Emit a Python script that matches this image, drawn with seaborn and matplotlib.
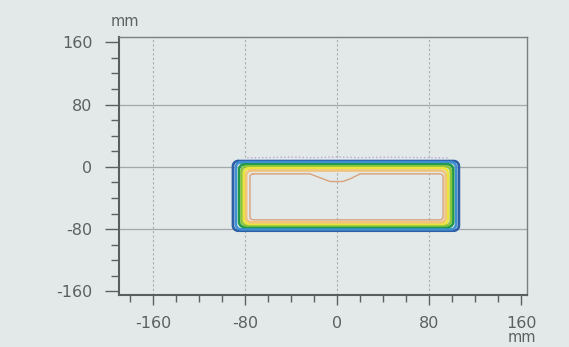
import numpy as np
import pandas as pd
import matplotlib
matplotlib.use("Agg")
import matplotlib.pyplot as plt
import seaborn as sns
from matplotlib.ticker import MultipleLocator

# ---- data (mm) ----
levels = ["c1", "c2", "c3", "c4", "c5", "c6"]
level_colors = ["#2d5fa6", "#3f8fd2", "#219a4c", "#8cc63f", "#ece43c", "#f2c37a"]
left_mm = [-90.5, -88.0, -85.2, -83.0, -80.9, -79.0]
right_mm = [106.0, 103.5, 101.0, 99.0, 96.5, 94.5]
top_mm = [7.5, 6.0, 3.2, 0.6, -1.7, -4.7]
bottom_mm = [-82.0, -80.2, -77.2, -75.2, -73.2, -71.2]

inner_level = "c7"
inner_color = "#d9a27a"
inner_left, inner_right, inner_top, inner_bottom = -75.7, 92.2, -9.0, -68.0
dip_x = [-23.5, -13.0, -6.0, 5.0, 12.0, 20.0]
dip_y = [-9.0, -15.0, -18.8, -18.8, -15.0, -9.0]

faint_x = [-78.0, -40.0, -20.0, 0.0, 20.0, 45.0, 96.0]
faint_y = [11.5, 12.5, 11.8, 12.8, 11.8, 12.4, 11.5]

xticks = [-160, -80, 0, 80, 160]
yticks = [160, 80, 0, -80, -160]
xgrid = [-160, -80, 0, 80]
ygrid = [80, 0, -80]


def outline(l, r, t, b, rx, ry, top_x=None, top_y=None):
    xs, ys = [], []
    if top_x is None:
        xs += [l + rx, r - rx]
        ys += [t, t]
    else:
        xs += [l + rx] + list(top_x) + [r - rx]
        ys += [t] + list(top_y) + [t]
    a = np.linspace(np.pi / 2, 0, 8)
    xs += list(r - rx + rx * np.cos(a)); ys += list(t - ry + ry * np.sin(a))
    a = np.linspace(0, -np.pi / 2, 8)
    xs += list(r - rx + rx * np.cos(a)); ys += list(b + ry + ry * np.sin(a))
    a = np.linspace(-np.pi / 2, -np.pi, 8)
    xs += list(l + rx + rx * np.cos(a)); ys += list(b + ry + ry * np.sin(a))
    a = np.linspace(np.pi, np.pi / 2, 8)
    xs += list(l + rx + rx * np.cos(a)); ys += list(t - ry + ry * np.sin(a))
    return xs, ys


frames = []
for i, lev in enumerate(levels):
    xs, ys = outline(left_mm[i], right_mm[i], top_mm[i], bottom_mm[i], 4.5, 6.5)
    frames.append(pd.DataFrame({"x": xs, "y": ys, "level": lev}))
df = pd.concat(frames, ignore_index=True)

ix, iy = outline(inner_left, inner_right, inner_top, inner_bottom, 3.0, 4.0, dip_x, dip_y)
df_inner = pd.DataFrame({"x": ix, "y": iy})
df_faint = pd.DataFrame({"x": faint_x, "y": faint_y})

bg = "#e3e9e9"
sns.set_theme(style="white")
plt.rcParams["font.family"] = ["DejaVu Sans"]

fig = plt.figure(figsize=(5.69, 3.47), dpi=100, facecolor=bg)
ax = fig.add_axes([119 / 569, 1 - 295 / 347, (527 - 119) / 569, (295 - 37) / 347])
ax.set_facecolor(bg)

# grid
for xv in xgrid:
    ax.axvline(xv, color="#a9afb0", lw=0.8, ls=(0, (2, 2)), zorder=0)
for yv in ygrid:
    ax.axhline(yv, color="#a3a9aa", lw=0.9, zorder=0)

sns.lineplot(data=df_faint, x="x", y="y", sort=False, estimator=None,
             color="#b9a9d6", lw=1.0, ls=":", ax=ax)
sns.lineplot(data=df, x="x", y="y", hue="level", units="level", sort=False, estimator=None,
             palette=dict(zip(levels, level_colors)), hue_order=levels,
             lw=1.9, legend=False, ax=ax)
sns.lineplot(data=df_inner, x="x", y="y", sort=False, estimator=None,
             color=inner_color, lw=1.0, ax=ax)

ax.set_xlim(-189.6, 165.2)
ax.set_ylim(-164.5, 166.7)
ax.set_xticks(xticks)
ax.set_yticks(yticks)
ax.set_xticklabels([str(v) for v in xticks])
ax.set_yticklabels([str(v) for v in yticks])
ax.xaxis.set_minor_locator(MultipleLocator(20))
ax.yaxis.set_minor_locator(MultipleLocator(20))
ax.set_xlabel("")
ax.set_ylabel("")

tc = "#5c6060"
ax.tick_params(axis="x", which="major", direction="out", length=7, width=1.0, color=tc,
               pad=8, labelsize=11.5, labelcolor=tc, bottom=True)
ax.tick_params(axis="x", which="minor", direction="out", length=5, width=1.0, color=tc, bottom=True)
ax.tick_params(axis="y", which="major", direction="out", length=10, width=1.0, color=tc,
               pad=9, labelsize=11.5, labelcolor=tc, left=True)
ax.tick_params(axis="y", which="minor", direction="out", length=6, width=1.0, color=tc, left=True)

for side in ["left", "bottom"]:
    ax.spines[side].set_color("#5a5e60")
    ax.spines[side].set_linewidth(1.5)
for side in ["top", "right"]:
    ax.spines[side].set_color("#7a7e80")
    ax.spines[side].set_linewidth(1.0)

fig.text(125 / 569, 1 - 21 / 347, "mm", color=tc, fontsize=10.5, ha="center", va="center")
fig.text(522 / 569, 1 - 338 / 347, "mm", color=tc, fontsize=10.5, ha="center", va="center")

fig.savefig("out.png", dpi=100, facecolor=bg)
